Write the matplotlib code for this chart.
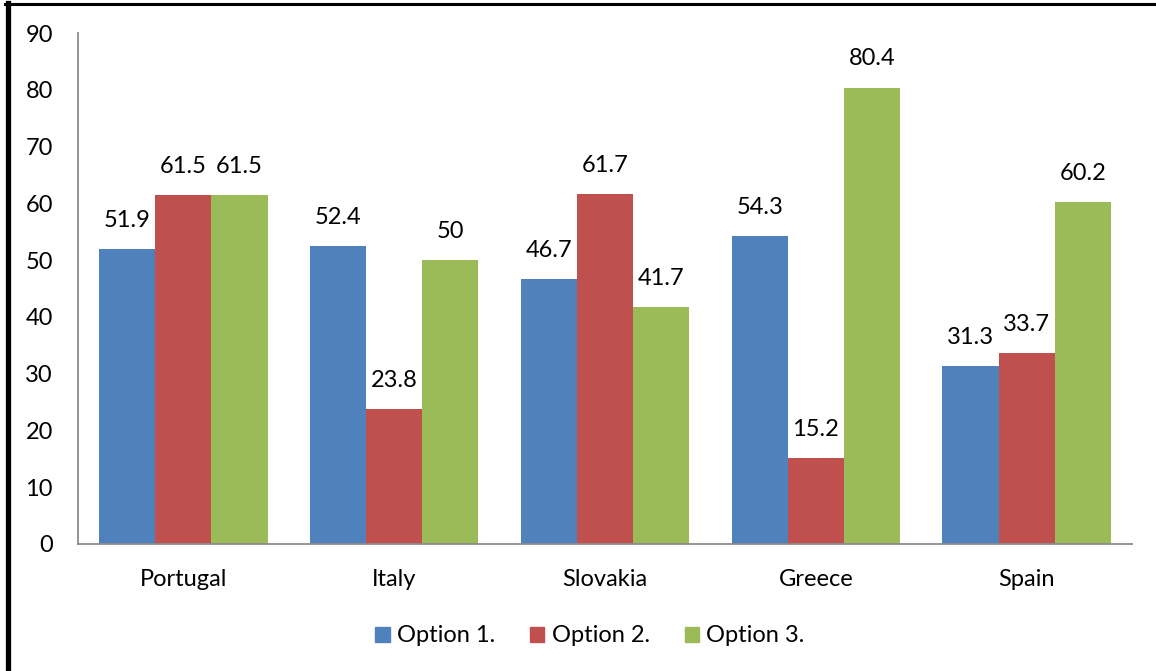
import matplotlib
matplotlib.use("Agg")
import matplotlib.pyplot as plt
from matplotlib.lines import Line2D
from matplotlib.patches import Patch
import numpy as np

countries = ["Portugal", "Italy", "Slovakia", "Greece", "Spain"]
option1 = [51.9, 52.4, 46.7, 54.3, 31.3]
option2 = [61.5, 23.8, 61.7, 15.2, 33.7]
option3 = [61.5, 50, 41.7, 80.4, 60.2]
series_names = ["Option 1.", "Option 2.", "Option 3."]
colors = ["#4F81BD", "#C0504D", "#9BBB59"]
yticks = [0, 10, 20, 30, 40, 50, 60, 70, 80, 90]

plt.rcParams["font.family"] = ["Lato", "DejaVu Sans"]
FS = 17

W, H = 1156, 671
fig = plt.figure(figsize=(W / 100, H / 100), dpi=100)
ax = fig.add_axes([78 / W, (H - 544) / H, (1132 - 78) / W, (544 - 33) / H])

x = np.arange(len(countries))
width = 0.266
for i, (vals, name, c) in enumerate(zip([option1, option2, option3], series_names, colors)):
    pos = x + (i - 1) * width
    bars = ax.bar(pos, vals, width, color=c, label=name, zorder=2)
    for b, v in zip(bars, vals):
        ax.annotate(f"{v:g}", (b.get_x() + b.get_width() / 2, v),
                    xytext=(0, 13), textcoords="offset points",
                    ha="center", va="bottom", fontsize=FS, color="#000000")

ax.set_xlim(-0.5, len(countries) - 0.5)
ax.set_ylim(0, 90)
ax.set_yticks(yticks)
ax.set_xticks(x)
ax.set_xticklabels(countries)
ax.tick_params(axis="both", length=0, labelsize=FS, colors="#000000")
ax.tick_params(axis="y", pad=18)
ax.tick_params(axis="x", pad=18)
for s in ["top", "right"]:
    ax.spines[s].set_visible(False)
for s in ["left", "bottom"]:
    ax.spines[s].set_color("#8C8C8C")
    ax.spines[s].set_linewidth(1.3)

handles = [Patch(color=c, label=n) for c, n in zip(colors, series_names)]
fig.legend(handles=handles, loc="center", bbox_to_anchor=(590 / W, (H - 636) / H),
           ncol=3, frameon=False, fontsize=FS, handlelength=0.6, handleheight=0.6,
           handletextpad=0.3, columnspacing=1.5)

# outer frame: heavy left rule and top rule
fig.add_artist(Line2D([7.5 / W, 7.5 / W], [0, 1 - 3 / H], color="black", linewidth=3.8,
                      transform=fig.transFigure))
fig.add_artist(Line2D([5 / W, 1], [1 - 4 / H, 1 - 4 / H], color="black", linewidth=2.2,
                      transform=fig.transFigure))

fig.savefig("out.png", dpi=100)
